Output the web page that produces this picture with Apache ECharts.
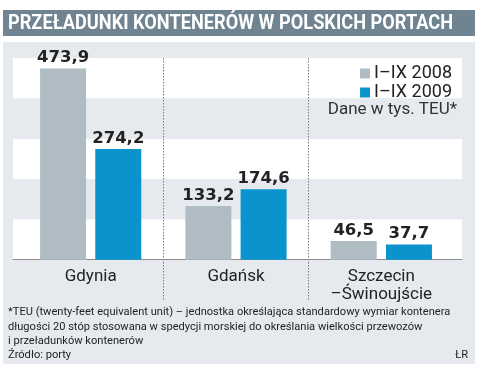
<!DOCTYPE html>
<html><head><meta charset="utf-8">
<script src="https://cdn.jsdelivr.net/npm/echarts@6/dist/echarts.min.js"></script>
<style>html,body{margin:0;padding:0;background:#fff}#c{width:488px;height:369px}</style>
</head><body><div id="c"></div>
<script>
const categories = ['Gdynia', 'Gdańsk', 'Szczecin\n–Świnoujście'];
const seriesNames = ['I–IX 2008', 'I–IX 2009'];
const values2008 = [473.9, 133.2, 46.5];
const values2009 = [274.2, 174.6, 37.7];
const titleText = 'PRZEŁADUNKI KONTENERÓW W POLSKICH PORTACH';
const unitText = 'Dane w tys. TEU*';
const footnoteLines = [
  '*TEU (twenty-feet equivalent unit) – jednostka określająca standardowy wymiar kontenera',
  'długości 20 stóp stosowana w spedycji morskiej do określania wielkości przewozów',
  'i przeładunków kontenerów'
];
const sourceText = 'Źródło: porty';
const authorText = 'ŁR';

const fmt = p => String(p.value).replace('.', ',');
const font = 'Roboto, "Noto Sans", sans-serif';
const titleFont = 'bold 21px Roboto';
const cv = document.createElement('canvas').getContext('2d');
cv.font = titleFont;
const titleScale = 445 / cv.measureText(titleText).width;

const chart = echarts.init(document.getElementById('c'), null, {renderer: 'canvas'});
const yCommon = {type: 'value', interval: 100, axisLabel: {show: false}, axisTick: {show: false}, axisLine: {show: false}, splitLine: {show: false}};
const labelStyle = {show: true, position: 'top', distance: 2, formatter: fmt, fontSize: 16.5, fontWeight: 'bold', color: '#222', fontFamily: '"DejaVu Sans", sans-serif'};
chart.setOption({
  animation: false,
  textStyle: {fontFamily: font},
  grid: [
    {left: 13, right: 26, top: 58, bottom: 69},
    {left: 18, right: 34, top: 58, bottom: 69},
    {left: 18, right: 34, top: 58, bottom: 109}
  ],
  xAxis: [
    {gridIndex: 0, type: 'category', data: [''], axisLabel: {show: false}, axisTick: {show: false},
     axisLine: {show: true, onZero: true, lineStyle: {color: '#8e8e8e', width: 1}}, splitLine: {show: false}},
    {gridIndex: 1, type: 'category', data: categories, axisTick: {show: false}, axisLabel: {show: false},
     axisLine: {show: false},
     splitLine: {show: true, showMinLine: false, showMaxLine: false, lineStyle: {color: '#7a7a7a', type: [1.5, 1.5], width: 1}}},
    {gridIndex: 2, type: 'category', data: categories, axisTick: {show: false},
     axisLine: {show: false, onZero: false},
     axisLabel: {fontSize: 17, color: '#222', margin: 8, lineHeight: 18, fontFamily: font},
     splitLine: {show: false}}
  ],
  yAxis: [
    Object.assign({}, yCommon, {gridIndex: 0, min: -100, max: 500, splitArea: {show: true, areaStyle: {color: ['#e6eaef', '#ffffff']}}}),
    Object.assign({}, yCommon, {gridIndex: 1, min: -100, max: 500}),
    Object.assign({}, yCommon, {gridIndex: 2, min: 0, max: 500})
  ],
  legend: {
    orient: 'vertical', right: 31, top: 59, itemWidth: 10, itemHeight: 10, itemGap: 0,
    icon: 'rect', align: 'left',
    textStyle: {fontSize: 18, color: '#222', lineHeight: 19, fontFamily: font, padding: [0, 0, 0, -1]},
    data: seriesNames
  },
  series: [
    {name: seriesNames[0], type: 'bar', xAxisIndex: 1, yAxisIndex: 1, data: values2008, barWidth: 46, barGap: '20%',
     itemStyle: {color: '#b0bcc4'}, label: labelStyle},
    {name: seriesNames[1], type: 'bar', xAxisIndex: 1, yAxisIndex: 1, data: values2009, barWidth: 46, barGap: '20%',
     itemStyle: {color: '#0a93cc'}, label: labelStyle}
  ],
  graphic: {elements: [
    {type: 'rect', z: -10, silent: true, shape: {x: 3, y: 42, width: 472, height: 322}, style: {fill: '#e6eaef'}},
    {type: 'rect', z: -10, silent: true, shape: {x: 3, y: 10, width: 472, height: 26}, style: {fill: '#6f8391'}},
    {type: 'text', z: 100, x: 8, y: 23.5, scaleX: titleScale, style: {text: titleText, fill: '#fff', fontSize: 21, fontWeight: 'bold',
      fontFamily: 'Roboto', verticalAlign: 'middle'}},
    {type: 'text', z: 100, x: 457, y: 110, style: {text: unitText, fill: '#333', fontSize: 17, fontFamily: font, align: 'right', verticalAlign: 'middle'}},
    {type: 'text', z: 100, x: 8, y: 305, style: {text: footnoteLines.join('\n'), fill: '#222', fontSize: 11.1, lineHeight: 14.5, fontFamily: font}},
    {type: 'text', z: 100, x: 8, y: 350, style: {text: sourceText, fill: '#222', fontSize: 11.1, fontFamily: font}},
    {type: 'text', z: 100, x: 468, y: 350, style: {text: authorText, fill: '#222', fontSize: 11.1, fontFamily: font, align: 'right'}}
  ]}
});
</script>
</body></html>
